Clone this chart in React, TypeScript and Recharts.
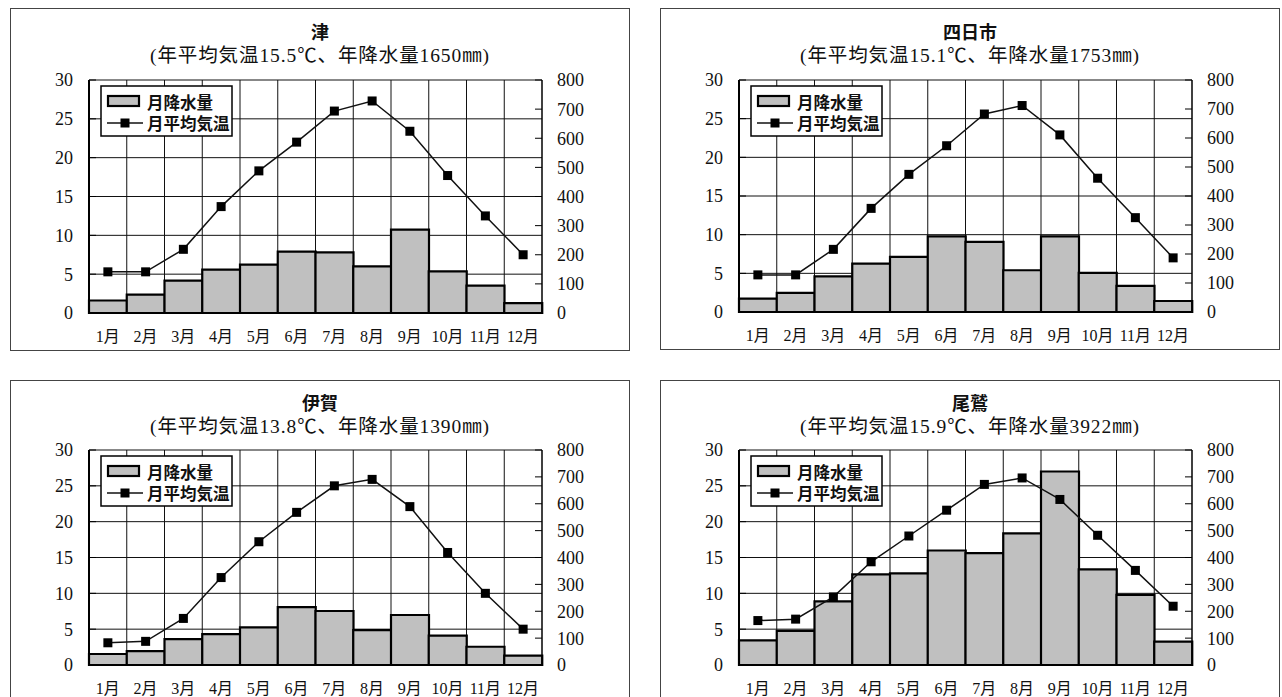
import React from 'react';
import { ComposedChart, Bar, Line, XAxis, YAxis, CartesianGrid } from 'recharts';

const months = ['1月', '2月', '3月', '4月', '5月', '6月', '7月', '8月', '9月', '10月', '11月', '12月'];
const tempTicks = [0, 5, 10, 15, 20, 25, 30];
const precipTicks = [0, 100, 200, 300, 400, 500, 600, 700, 800];

const tsuPrecip = [43, 63, 111, 149, 166, 211, 208, 160, 286, 143, 94, 34];
const tsuTemp = [5.3, 5.3, 8.2, 13.7, 18.3, 22.0, 26.0, 27.3, 23.4, 17.7, 12.5, 7.5];

const yokkaichiPrecip = [46, 66, 123, 167, 190, 261, 242, 144, 261, 135, 90, 38];
const yokkaichiTemp = [4.8, 4.8, 8.1, 13.4, 17.8, 21.5, 25.6, 26.7, 22.9, 17.3, 12.2, 7.0];

const igaPrecip = [41, 52, 96, 115, 140, 215, 201, 130, 186, 109, 68, 35];
const igaTemp = [3.1, 3.3, 6.5, 12.2, 17.2, 21.3, 25.0, 25.9, 22.1, 15.7, 10.0, 5.0];

const owasePrecip = [92, 127, 237, 337, 341, 426, 416, 490, 720, 356, 261, 87];
const owaseTemp = [6.2, 6.4, 9.5, 14.4, 18.0, 21.6, 25.2, 26.1, 23.1, 18.1, 13.2, 8.2];

const stationNames = ['津', '四日市', '伊賀', '尾鷲'];
const stationSubs = [
  '(年平均気温15.5℃、年降水量1650㎜)',
  '(年平均気温15.1℃、年降水量1753㎜)',
  '(年平均気温13.8℃、年降水量1390㎜)',
  '(年平均気温15.9℃、年降水量3922㎜)',
];
const precipSeries = [tsuPrecip, yokkaichiPrecip, igaPrecip, owasePrecip];
const tempSeries = [tsuTemp, yokkaichiTemp, igaTemp, owaseTemp];

const legendBar = '月降水量';
const legendLine = '月平均気温';

const layouts = [
  { x: 10, y: 8, w: 620, h: 343, top: 72, titleY: 23, subY: 47 },
  { x: 660, y: 8, w: 620, h: 342, top: 72, titleY: 23, subY: 47 },
  { x: 10, y: 380, w: 620, h: 323, top: 70, titleY: 22, subY: 46 },
  { x: 660, y: 380, w: 620, h: 323, top: 70, titleY: 22, subY: 46 },
];

const SERIF = "'Liberation Serif', 'Noto Sans CJK JP', serif";
const GOTHIC = "'Noto Sans CJK JP', sans-serif";

const SquareDot = (props: any) => {
  const { cx, cy } = props;
  if (cx == null || cy == null) return null;
  return <rect key={props.index} x={cx - 4.5} y={cy - 4.5} width={9} height={9} fill="#000" />;
};

const verticalGen = ({ width, offset }: any) => {
  const n = months.length;
  const left = offset.left;
  const w = offset.width != null ? offset.width : width - offset.left - offset.right;
  const pts: number[] = [];
  for (let i = 1; i < n; i++) pts.push(left + (i * w) / n);
  return pts;
};

const Panel = ({ idx }: { idx: number }) => {
  const L = layouts[idx];
  const data = months.map((m, i) => ({ month: m, precip: precipSeries[idx][i], temp: tempSeries[idx][i] }));
  const marginLeft = 19;
  const marginRight = 28;
  const axisW = 60;
  const plotLeft = marginLeft + axisW;
  const plotTop = L.top;
  return (
    <div style={{ position: 'absolute', left: L.x, top: L.y, width: L.w, height: L.h }}>
      <div
        style={{
          position: 'absolute',
          left: 0,
          top: 0,
          width: L.w,
          height: L.h,
          boxSizing: 'border-box',
          border: '1.5px solid #444',
        }}
      />
      <div style={{ position: 'absolute', left: 0, top: 0 }}>
        <ComposedChart
          width={L.w}
          height={L.h}
          data={data}
          margin={{ top: L.top, right: marginRight, bottom: 8, left: marginLeft }}
          barCategoryGap={0}
          barGap={0}
        >
          <CartesianGrid
            yAxisId="left"
            stroke="#111"
            strokeWidth={1}
            verticalCoordinatesGenerator={verticalGen}
          />
          <XAxis
            dataKey="month"
            tickLine={false}
            tickSize={0}
            tickMargin={18}
            height={30}
            interval={0}
            axisLine={{ stroke: '#000', strokeWidth: 2 }}
            tick={{ fill: '#111', fontSize: 16, fontFamily: SERIF }}
          />
          <YAxis
            yAxisId="left"
            orientation="left"
            width={axisW}
            domain={[0, 30]}
            ticks={tempTicks}
            interval={0}
            tickSize={-7}
            tickMargin={23}
            axisLine={{ stroke: '#000', strokeWidth: 2 }}
            tickLine={{ stroke: '#000', strokeWidth: 1 }}
            tick={{ fill: '#111', fontSize: 18, fontFamily: SERIF }}
          />
          <YAxis
            yAxisId="right"
            orientation="right"
            width={axisW}
            domain={[0, 800]}
            ticks={precipTicks}
            interval={0}
            tickSize={-7}
            tickMargin={22}
            axisLine={{ stroke: '#000', strokeWidth: 1.5 }}
            tickLine={{ stroke: '#000', strokeWidth: 1 }}
            tick={{ fill: '#111', fontSize: 18, fontFamily: SERIF, textAnchor: 'start' }}
          />
          <Bar
            yAxisId="right"
            dataKey="precip"
            fill="#c0c0c0"
            stroke="#000"
            strokeWidth={2.2}
            isAnimationActive={false}
          />
          <Line
            yAxisId="left"
            dataKey="temp"
            type="linear"
            stroke="#111"
            strokeWidth={1.5}
            dot={(p: any) => <SquareDot key={'d' + p.index} {...p} />}
            activeDot={false}
            isAnimationActive={false}
          />
        </ComposedChart>
      </div>
      <svg
        style={{ position: 'absolute', left: 0, top: 0, pointerEvents: 'none' }}
        width={L.w}
        height={L.h}
      >
        <text
          x={L.w / 2}
          y={L.titleY}
          textAnchor="middle"
          dominantBaseline="central"
          fontFamily={GOTHIC}
          fontWeight="bold"
          fontSize={18}
          fill="#111"
        >
          {stationNames[idx]}
        </text>
        <text
          x={L.w / 2}
          y={L.subY}
          textAnchor="middle"
          dominantBaseline="central"
          fontFamily={SERIF}
          fontSize={19.5}
          letterSpacing={0.9}
          fill="#111"
        >
          {stationSubs[idx]}
        </text>
        <g transform={`translate(${plotLeft + 12}, ${plotTop + 6})`}>
          <rect x={0} y={0} width={131} height={50} fill="#fff" stroke="#000" strokeWidth={1.5} />
          <rect x={7} y={10} width={31} height={10} fill="#c0c0c0" stroke="#000" strokeWidth={2.2} />
          <text x={46} y={15.5} dominantBaseline="central" fontFamily={GOTHIC} fontWeight="bold" fontSize={16.5} fill="#111">
            {legendBar}
          </text>
          <line x1={6} y1={37} x2={42} y2={37} stroke="#111" strokeWidth={1.5} />
          <rect x={19.5} y={32.5} width={9} height={9} fill="#000" />
          <text x={46} y={37} dominantBaseline="central" fontFamily={GOTHIC} fontWeight="bold" fontSize={16.5} fill="#111">
            {legendLine}
          </text>
        </g>
      </svg>
    </div>
  );
}

export default function App() {
  return (
    <div style={{ position: 'absolute', left: 0, top: 0, width: 1282, height: 697, background: '#fff', overflow: 'hidden' }}>
      {[0, 1, 2, 3].map((i) => (
        <Panel key={i} idx={i} />
      ))}
    </div>
  );
}
